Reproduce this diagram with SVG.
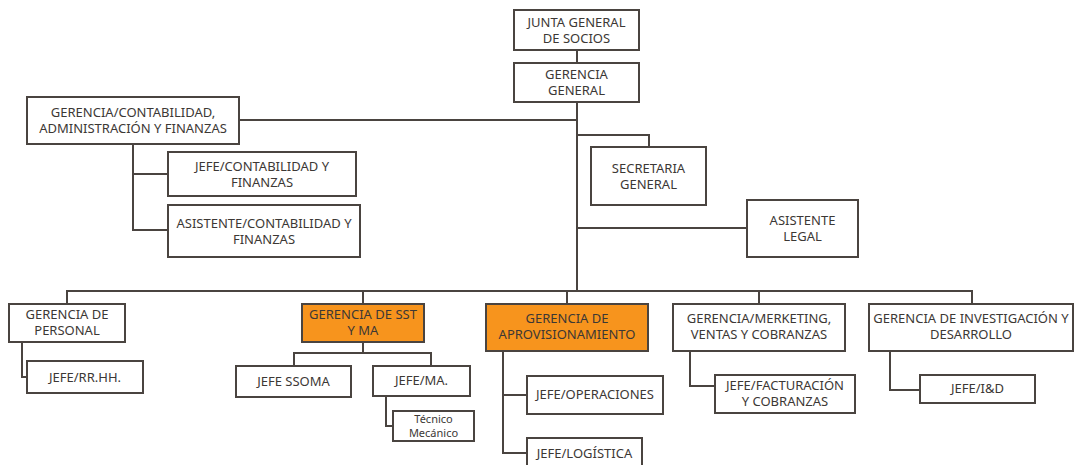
<svg xmlns="http://www.w3.org/2000/svg" width="1074" height="465" viewBox="0 0 1074 465">
  <style>
    .box { fill: #ffffff; stroke: #4a4440; stroke-width: 2; }
    .hl { fill: #f7941d; stroke: #4a4440; stroke-width: 2; }
    .lbl { font-family: "Noto Sans", "DejaVu Sans", sans-serif; font-size: 13px; fill: #3c3835; text-anchor: middle; }
    .sm { font-size: 11px; }
    .con { fill: none; stroke: #4a4440; stroke-width: 2; }
  </style>
  <rect width="1074" height="465" fill="#ffffff"/>

  <!-- connectors -->
  <g id="connectors">
    <path class="con" d="M577 50 V63"/>
    <path class="con" d="M577 102 V291"/>
    <path class="con" d="M239 120 H577"/>
    <path class="con" d="M133 144 V230 H168 M133 174 H168"/>
    <path class="con" d="M577 135 H649 V147"/>
    <path class="con" d="M577 228 H747"/>
    <path class="con" d="M67 304 V291 H972 V304"/>
    <path class="con" d="M363 291 V304 M567 291 V304 M759 291 V304"/>
    <path class="con" d="M22 342 V377 H27"/>
    <path class="con" d="M363 342 V353 M294 366 V353 H431 V366"/>
    <path class="con" d="M386 396 V426 H393"/>
    <path class="con" d="M503 351 V453 H527 M503 395 H527"/>
    <path class="con" d="M690 351 V386 H715"/>
    <path class="con" d="M890 351 V390 H920"/>
  </g>

  <g id="junta">
    <rect class="box" x="514" y="10" width="125" height="40"/>
    <text class="lbl" x="576.5" y="27">JUNTA GENERAL</text>
    <text class="lbl" x="576.5" y="43">DE SOCIOS</text>
  </g>
  <g id="gerencia-general">
    <rect class="box" x="514" y="63" width="125" height="39"/>
    <text class="lbl" x="576.5" y="79">GERENCIA</text>
    <text class="lbl" x="576.5" y="95">GENERAL</text>
  </g>
  <g id="gerencia-contabilidad">
    <rect class="box" x="27" y="97" width="212" height="47"/>
    <text class="lbl" x="133" y="117">GERENCIA/CONTABILIDAD,</text>
    <text class="lbl" x="133" y="133">ADMINISTRACIÓN Y FINANZAS</text>
  </g>
  <g id="jefe-contabilidad">
    <rect class="box" x="168" y="152" width="188" height="44"/>
    <text class="lbl" x="262" y="171">JEFE/CONTABILIDAD Y</text>
    <text class="lbl" x="262" y="187">FINANZAS</text>
  </g>
  <g id="asistente-contabilidad">
    <rect class="box" x="168" y="205" width="192" height="52"/>
    <text class="lbl" x="264" y="228">ASISTENTE/CONTABILIDAD Y</text>
    <text class="lbl" x="264" y="244">FINANZAS</text>
  </g>
  <g id="secretaria">
    <rect class="box" x="591" y="147" width="115" height="58"/>
    <text class="lbl" x="648.5" y="173">SECRETARIA</text>
    <text class="lbl" x="648.5" y="189">GENERAL</text>
  </g>
  <g id="asistente-legal">
    <rect class="box" x="747" y="200" width="111" height="57"/>
    <text class="lbl" x="802.5" y="225">ASISTENTE</text>
    <text class="lbl" x="802.5" y="241">LEGAL</text>
  </g>

  <g id="gerencia-personal">
    <rect class="box" x="9" y="304" width="116" height="38"/>
    <text class="lbl" x="67" y="319">GERENCIA DE</text>
    <text class="lbl" x="67" y="335">PERSONAL</text>
  </g>
  <g id="jefe-rrhh">
    <rect class="box" x="27" y="361" width="116" height="32"/>
    <text class="lbl" x="85" y="382">JEFE/RR.HH.</text>
  </g>
  <g id="gerencia-sst">
    <rect class="hl" x="302" y="304" width="122" height="38"/>
    <text class="lbl" x="363" y="319">GERENCIA DE SST</text>
    <text class="lbl" x="363" y="335">Y MA</text>
  </g>
  <g id="jefe-ssoma">
    <rect class="box" x="236" y="366" width="115" height="31"/>
    <text class="lbl" x="293.5" y="386">JEFE SSOMA</text>
  </g>
  <g id="jefe-ma">
    <rect class="box" x="373" y="366" width="97" height="30"/>
    <text class="lbl" x="421.5" y="385">JEFE/MA.</text>
  </g>
  <g id="tecnico-mecanico">
    <rect class="box" x="393" y="411" width="81" height="30"/>
    <text class="lbl sm" x="433.5" y="423">Técnico</text>
    <text class="lbl sm" x="433.5" y="437">Mecánico</text>
  </g>
  <g id="gerencia-aprovisionamiento">
    <rect class="hl" x="486" y="304" width="162" height="47"/>
    <text class="lbl" x="567" y="323">GERENCIA DE</text>
    <text class="lbl" x="567" y="339">APROVISIONAMIENTO</text>
  </g>
  <g id="jefe-operaciones">
    <rect class="box" x="527" y="376" width="136" height="38"/>
    <text class="lbl" x="595" y="399">JEFE/OPERACIONES</text>
  </g>
  <g id="jefe-logistica">
    <rect class="box" x="527" y="438" width="115" height="40"/>
    <text class="lbl" x="584.5" y="458">JEFE/LOGÍSTICA</text>
  </g>
  <g id="gerencia-marketing">
    <rect class="box" x="673" y="304" width="172" height="47"/>
    <text class="lbl" x="759" y="323">GERENCIA/MERKETING,</text>
    <text class="lbl" x="759" y="339">VENTAS Y COBRANZAS</text>
  </g>
  <g id="jefe-facturacion">
    <rect class="box" x="715" y="375" width="140" height="38"/>
    <text class="lbl" x="785" y="390">JEFE/FACTURACIÓN</text>
    <text class="lbl" x="785" y="406">Y COBRANZAS</text>
  </g>
  <g id="gerencia-investigacion">
    <rect class="box" x="869" y="304" width="204" height="47"/>
    <text class="lbl" x="971" y="323">GERENCIA DE INVESTIGACIÓN Y</text>
    <text class="lbl" x="971" y="339">DESARROLLO</text>
  </g>
  <g id="jefe-id">
    <rect class="box" x="920" y="375" width="115" height="28"/>
    <text class="lbl" x="977.5" y="393">JEFE/I&amp;D</text>
  </g>
</svg>
